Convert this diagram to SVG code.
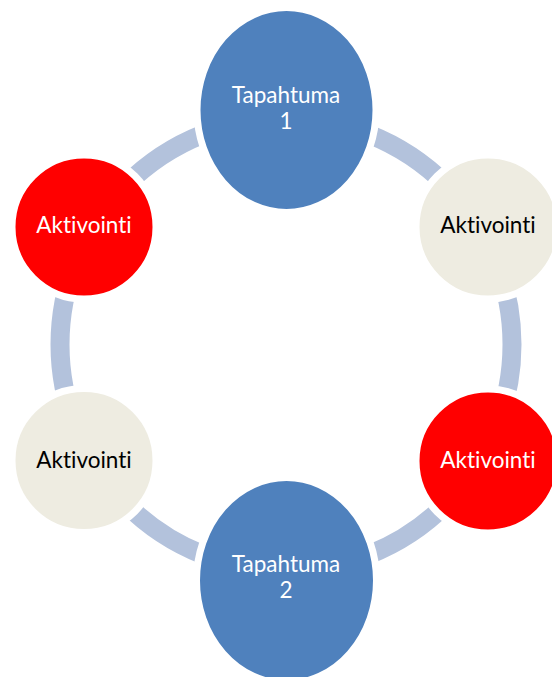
<svg xmlns="http://www.w3.org/2000/svg" width="552" height="677" viewBox="0 0 552 677">
<style>
.ring{fill:none;stroke:#B3C2DC;stroke-width:19}
.n{stroke:#FFFFFF;stroke-width:7}
.blue{fill:#4F81BD}
.red{fill:#FF0000}
.beige{fill:#EEECE1}
text{font-family:Lato,"Liberation Sans",sans-serif;font-size:22.5px;text-anchor:middle;font-variant-ligatures:none;font-feature-settings:"liga" 0}
.w{fill:#FFFFFF}
.k{fill:#000000}
</style>
<rect width="552" height="677" fill="#FFFFFF"/>
<g id="connectors">
<circle class="ring" cx="286" cy="344.5" r="226"/>
</g>
<g id="tapahtuma1">
<ellipse class="n blue" cx="286.5" cy="110" rx="89.5" ry="102.5"/>
<text class="w" x="286" y="103">Tapahtuma<tspan x="286" y="129">1</tspan></text>
</g>
<g id="aktivointi-oikea-ylä">
<circle class="n beige" cx="488" cy="227" r="72"/>
<text class="k" x="488" y="233">Aktivointi</text>
</g>
<g id="aktivointi-oikea-ala">
<circle class="n red" cx="488" cy="461" r="72"/>
<text class="w" x="488" y="468">Aktivointi</text>
</g>
<g id="tapahtuma2">
<ellipse class="n blue" cx="286.5" cy="580.5" rx="90" ry="103"/>
<text class="w" x="286" y="572">Tapahtuma<tspan x="286" y="597.5">2</tspan></text>
</g>
<g id="aktivointi-vasen-ala">
<circle class="n beige" cx="84" cy="460.5" r="72"/>
<text class="k" x="84" y="468">Aktivointi</text>
</g>
<g id="aktivointi-vasen-ylä">
<circle class="n red" cx="84" cy="227" r="72"/>
<text class="w" x="84" y="233">Aktivointi</text>
</g>
</svg>
